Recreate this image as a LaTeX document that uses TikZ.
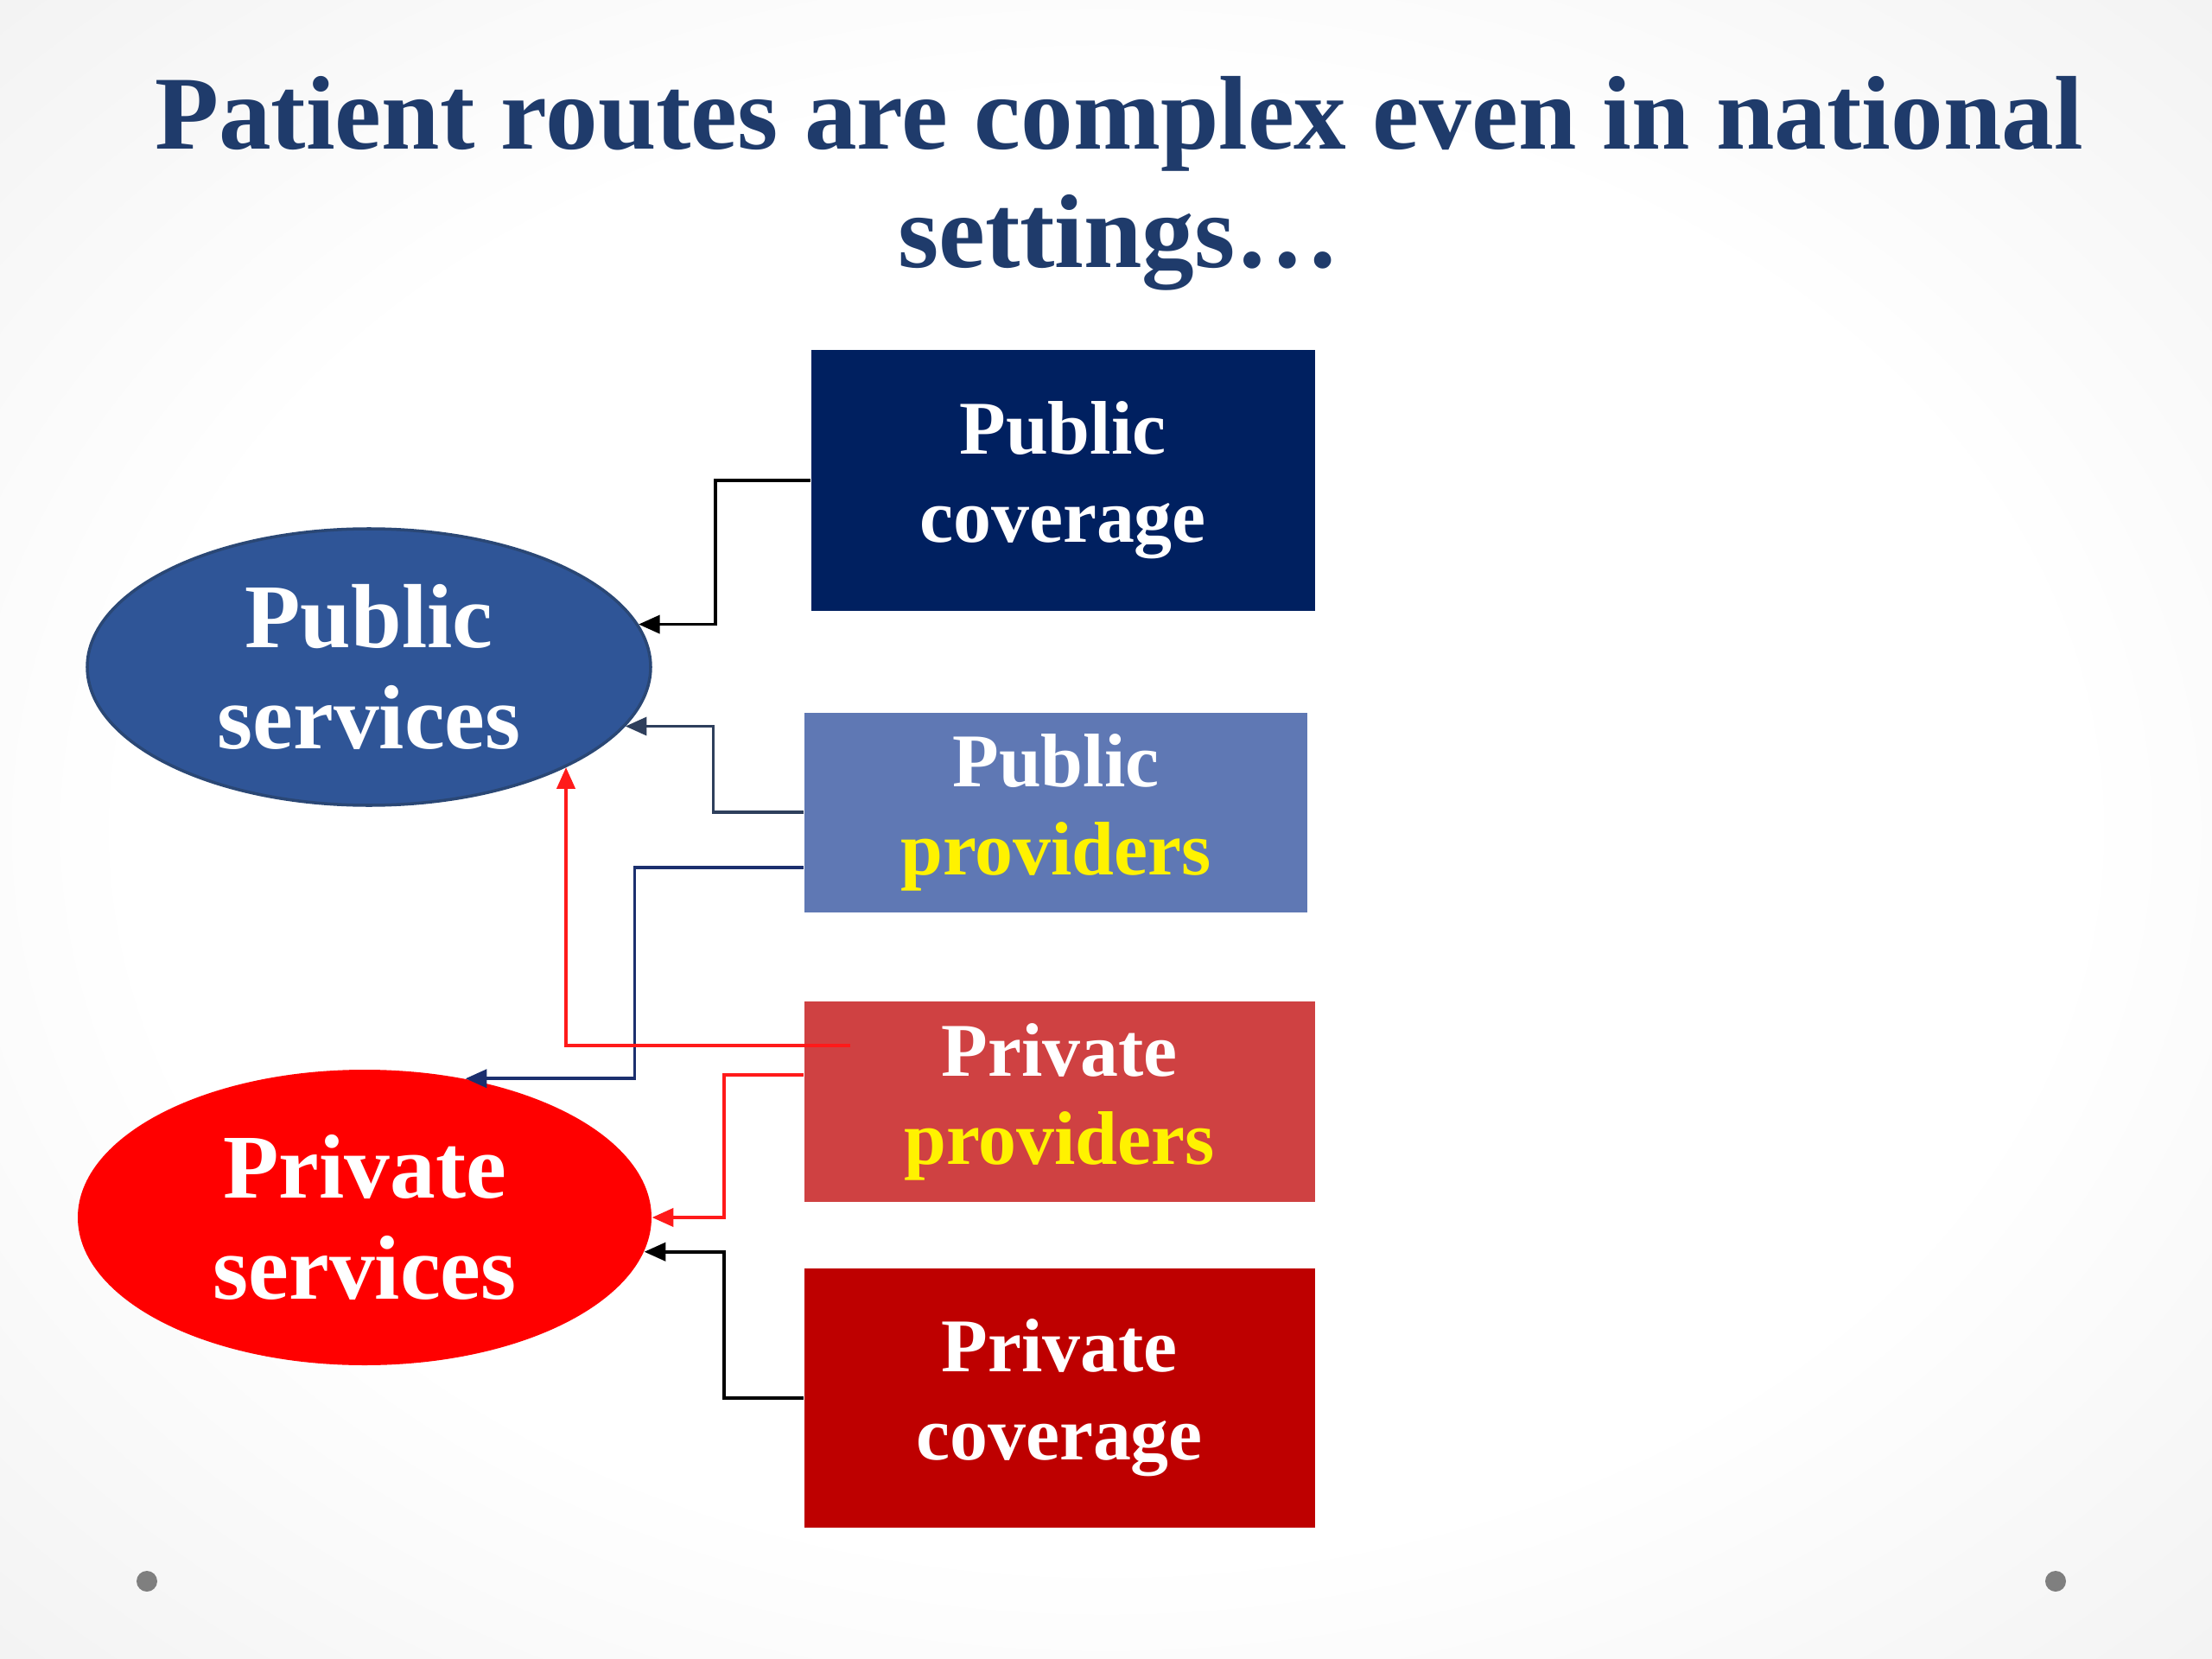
\documentclass[tikz,border=0pt]{standalone}
\usepackage{fontspec}
\setmainfont{Liberation Serif}
\usetikzlibrary{arrows.meta, shapes.geometric}
\definecolor{titleblue}{HTML}{1F3B6B}
\definecolor{pcnavy}{HTML}{002060}
\definecolor{pubblue}{HTML}{2F5597}
\definecolor{pubedge}{HTML}{2A4775}
\definecolor{provblue}{HTML}{5F78B4}
\definecolor{provred}{HTML}{CF4142}
\definecolor{covred}{HTML}{BE0000}
\definecolor{slate}{HTML}{2E3F5C}
\definecolor{linknavy}{HTML}{1B2F6E}
\definecolor{linkred}{HTML}{FF1A1A}
\definecolor{dotgray}{HTML}{7F7F7F}
\pgfdeclareradialshading{slidebg}{\pgfpoint{0bp}{0bp}}{%
  color(0bp)=(white); color(22bp)=(white); color(50bp)=(black!10); color(72bp)=(black!19)}

\tikzset{
  box/.style={rectangle, text=white, align=center, inner sep=0pt,
    font=\bfseries\fontsize{25}{29}\selectfont},
  service/.style={ellipse, text=white, align=center, inner sep=0pt,
    font=\bfseries\fontsize{30}{33.5}\selectfont},
  link/.style={->, line width=1pt},
}

\begin{document}
\begin{tikzpicture}[>={Triangle[length=7pt, width=6pt]}]

% Background
\shade[shading=slidebg] (0,0) rectangle (25.6,-19.2);
\useasboundingbox (0,0) rectangle (25.6,-19.2);

% Title
\node[text=titleblue, font=\bfseries\fontsize{34.5}{39}\selectfont, align=center] (title) at (12.95,-2.12)
  {Patient routes are complex even in national\\settings\ldots};

% Coverage and provider boxes
\node[box, fill=pcnavy, minimum width=5.83cm, minimum height=3.02cm] (pubcov) at (12.30,-5.56) {Public\\coverage};
\node[box, fill=provblue, minimum width=5.82cm, minimum height=2.31cm] (pubprov) at (12.22,-9.40) {Public\\\textcolor{yellow}{providers}};
\node[box, fill=provred, minimum width=5.91cm, minimum height=2.32cm] (privprov) at (12.26,-12.75) {Private\\\textcolor{yellow}{providers}};
\node[box, fill=covred, minimum width=5.91cm, minimum height=3.00cm] (privcov) at (12.26,-16.18) {Private\\coverage};

% Services
\node[service, fill=pubblue, draw=pubedge, line width=1pt, minimum width=6.52cm, minimum height=3.20cm] (pubsrv) at (4.27,-7.72) {Public\\services};
\node[service, fill=red, minimum width=6.64cm, minimum height=3.42cm] (privsrv) at (4.22,-14.09) {Private\\services};

% Routes
\draw[link] (pubcov.west) -- ++(-1.10,0) |- (pubsrv.9);
\draw[link, slate] (pubprov.west) -- ++(-1.05,0) |- (pubsrv.-13);
\draw[link, linknavy] ([yshift=-0.64cm]pubprov.west) -- ++(-1.96,0) |- (privsrv.54);
\draw[link, linkred] ([xshift=0.54cm, yshift=0.65cm]privprov.west) -| (pubsrv.-27);
\draw[link, linkred] ([yshift=0.31cm]privprov.west) -- ++(-0.92,0) |- (privsrv.east);
\draw[link] (privcov.west) -- ++(-0.92,0) |- (privsrv.-7);

% Slide dots
\fill[dotgray] (1.70,-18.30) circle (0.12);
\fill[dotgray] (23.79,-18.30) circle (0.12);

\end{tikzpicture}
\end{document}
